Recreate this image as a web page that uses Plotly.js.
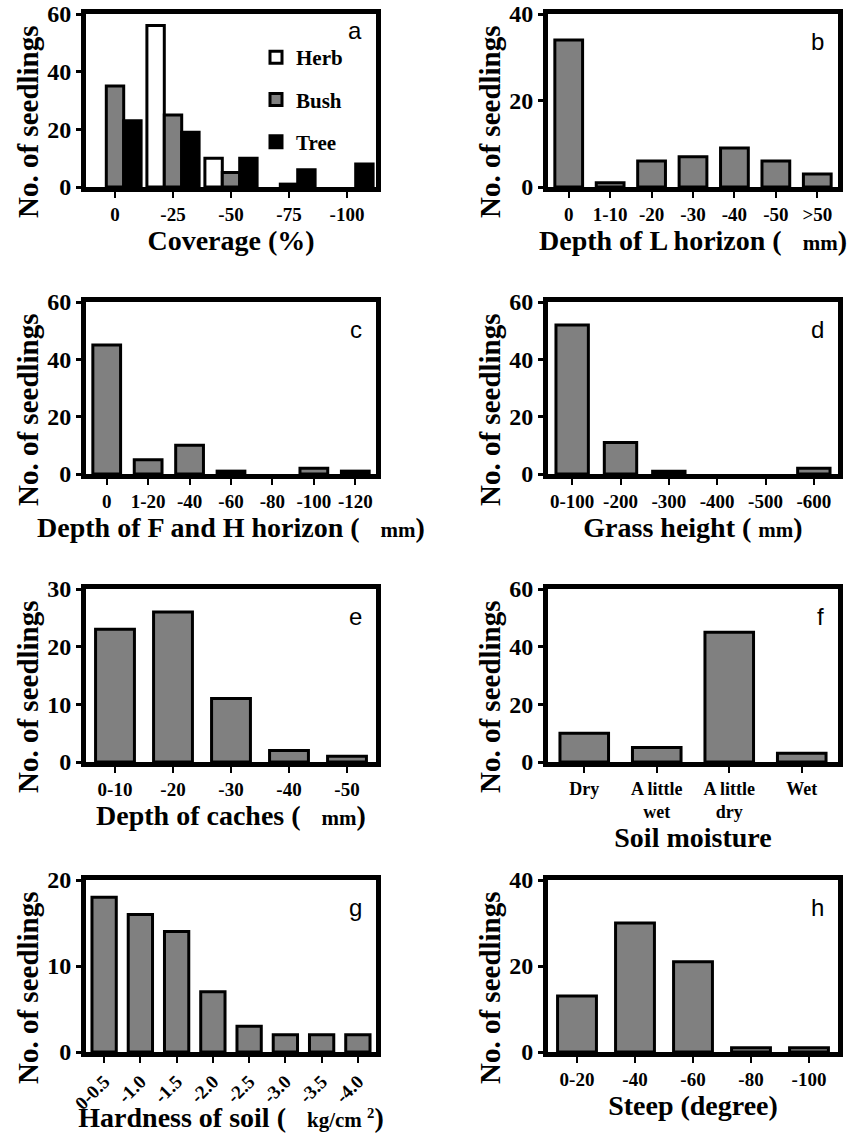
<!DOCTYPE html>
<html><head><meta charset="utf-8">
<script src="https://cdn.plot.ly/plotly-3.0.1.min.js"></script>
<style>html,body{margin:0;padding:0;background:#fff}</style>
</head><body><div id="chart" style="width:858px;height:1133px"></div>
<script>
// ---------- data ----------
const coverageCats = ['0', '-25', '-50', '-75', '-100'];
const herbCounts = [0, 56, 10, 0, 0];
const bushCounts = [35, 25, 5, 1, 0];
const treeCounts = [23, 19, 10, 6, 8];

const lDepthCats = ['0', '1-10', '-20', '-30', '-40', '-50', '>50'];
const lDepthCounts = [34, 1, 6, 7, 9, 6, 3];

const fhDepthCats = ['0', '1-20', '-40', '-60', '-80', '-100', '-120'];
const fhDepthCounts = [45, 5, 10, 1, 0, 2, 1];

const grassCats = ['0-100', '-200', '-300', '-400', '-500', '-600'];
const grassCounts = [52, 11, 1, 0, 0, 2];

const cacheCats = ['0-10', '-20', '-30', '-40', '-50'];
const cacheCounts = [23, 26, 11, 2, 1];

const moistureCats = ['Dry', 'A little<br>wet', 'A little<br>dry', 'Wet'];
const moistureCounts = [10, 5, 45, 3];

const hardnessCats = ['0-0.5', '-1.0', '-1.5', '-2.0', '-2.5', '-3.0', '-3.5', '-4.0'];
const hardnessCounts = [18, 16, 14, 7, 3, 2, 2, 2];

const steepCats = ['0-20', '-40', '-60', '-80', '-100'];
const steepCounts = [13, 30, 21, 1, 1];

const yTitle = 'No. of seedlings';
const NB = '\u00a0';
const xTitles = [
  'Coverage (%)',
  'Depth of L horizon (' + NB + NB + NB + '<span style="font-size:21px">mm</span>)',
  'Depth of F and H horizon (' + NB + NB + NB + '<span style="font-size:21px">mm</span>)',
  'Grass height (' + NB + '<span style="font-size:21px">mm</span>)',
  'Depth of caches (' + NB + NB + NB + '<span style="font-size:21px">mm</span>)',
  'Soil moisture',
  'Hardness of soil (' + NB + NB + NB + '<span style="font-size:21px">kg/cm <sup>2</sup></span>)',
  'Steep (degree)'
];
const panelLetters = ['a', 'b', 'c', 'd', 'e', 'f', 'g', 'h'];
const yMax = [60, 40, 60, 60, 30, 60, 20, 40];
const yStep = [20, 20, 20, 20, 10, 20, 10, 20];

// ---------- layout geometry (pixels) ----------
const W = 858, H = 1133;
const cols = [[86, 376], [548, 838]];
const rows = [[14, 187], [302, 474], [589, 762], [880, 1052]];
const SERIF = '"Liberation Serif", "Times New Roman", "DejaVu Serif", serif';
const SANS = '"Liberation Sans", Arial, sans-serif';
const GRAY = '#808080';

const singleSeries = [null, [lDepthCats, lDepthCounts], [fhDepthCats, fhDepthCounts],
  [grassCats, grassCounts], [cacheCats, cacheCounts], [moistureCats, moistureCounts],
  [hardnessCats, hardnessCounts], [steepCats, steepCounts]];

// zero counts draw no bar (avoid a stray outline on the axis)
const shown = vals => vals.map(v => (v === 0 ? null : v));

const traces = [];
const layout = {
  width: W, height: H,
  margin: {l: 0, r: 0, t: 0, b: 0},
  paper_bgcolor: '#fff', plot_bgcolor: '#fff',
  font: {family: SERIF, color: '#000'},
  barmode: 'group',
  showlegend: true,
  legend: {
    x: 256 / W, y: 1 - 37 / H, xanchor: 'left', yanchor: 'top',
    bgcolor: 'rgba(0,0,0,0)', tracegroupgap: 12,
    font: {family: SERIF, size: 21, weight: 'bold', color: '#000'}
  },
  annotations: []
};

// panel a: grouped bars
const groupStyles = [
  ['Herb', herbCounts, '#ffffff', -0.45],
  ['Bush', bushCounts, GRAY, -0.15],
  ['Tree', treeCounts, '#000000', 0.15]
];
groupStyles.forEach(([name, vals, col, off]) => {
  traces.push({
    type: 'bar', name: name, legendgroup: name, x: coverageCats, y: shown(vals),
    xaxis: 'x', yaxis: 'y', width: 0.3, offset: off,
    marker: {color: col, line: {color: '#000', width: 3}}
  });
});

for (let i = 1; i < 8; i++) {
  const [cats, vals] = singleSeries[i];
  traces.push({
    type: 'bar', x: cats, y: shown(vals), showlegend: false,
    xaxis: 'x' + (i + 1), yaxis: 'y' + (i + 1), width: 0.67,
    marker: {color: GRAY, line: {color: '#000', width: 3}}
  });
}

for (let i = 0; i < 8; i++) {
  const c = cols[i % 2], r = rows[Math.floor(i / 2)];
  const xk = i === 0 ? 'xaxis' : 'xaxis' + (i + 1);
  const yk = i === 0 ? 'yaxis' : 'yaxis' + (i + 1);
  const xid = i === 0 ? 'x' : 'x' + (i + 1);
  const yid = i === 0 ? 'y' : 'y' + (i + 1);
  layout[xk] = {
    domain: [c[0] / W, c[1] / W], anchor: yid, type: 'category',
    categoryorder: 'array', categoryarray: (i === 0 ? coverageCats : singleSeries[i][0]),
    showline: true, linewidth: 5, linecolor: '#000', mirror: true,
    ticks: 'outside', ticklen: 6, tickwidth: 2, tickcolor: '#000',
    tickangle: i === 6 ? -45 : 0,
    tickfont: {family: SERIF, size: (i === 5) ? 18 : 19, weight: 'bold', color: '#000'},
    showgrid: false, zeroline: false, fixedrange: true,
    title: {text: xTitles[i], standoff: 6, font: {family: SERIF, size: 28, weight: 'bold', color: '#000'}}
  };
  layout[yk] = {
    domain: [1 - r[1] / H, 1 - r[0] / H], anchor: xid,
    range: [0, yMax[i]], tickmode: 'linear', tick0: 0, dtick: yStep[i],
    showline: true, linewidth: 5, linecolor: '#000', mirror: true,
    ticks: 'outside', ticklen: 5, tickwidth: 3, tickcolor: '#000',
    tickfont: {family: SERIF, size: 24, weight: 'bold', color: '#000'},
    showgrid: false, zeroline: false, fixedrange: true
  };
  // y axis title
  layout.annotations.push({
    text: yTitle, textangle: -90, showarrow: false,
    xref: 'paper', yref: 'paper',
    x: (c[0] - 58) / W, y: 1 - (r[0] + 108) / H, xanchor: 'center', yanchor: 'middle',
    font: {family: SERIF, size: 29, weight: 'bold', color: '#000'}
  });
  // panel letter
  layout.annotations.push({
    text: panelLetters[i], showarrow: false,
    xref: 'paper', yref: 'paper',
    x: (c[1] - 12) / W, y: 1 - (r[0] + (i === 0 ? 16 : 27)) / H,
    xanchor: 'right', yanchor: 'middle',
    font: {family: SANS, size: 24, color: '#000'}
  });
}

Plotly.newPlot('chart', traces, layout, {displayModeBar: false, staticPlot: true});
</script>
</body></html>
